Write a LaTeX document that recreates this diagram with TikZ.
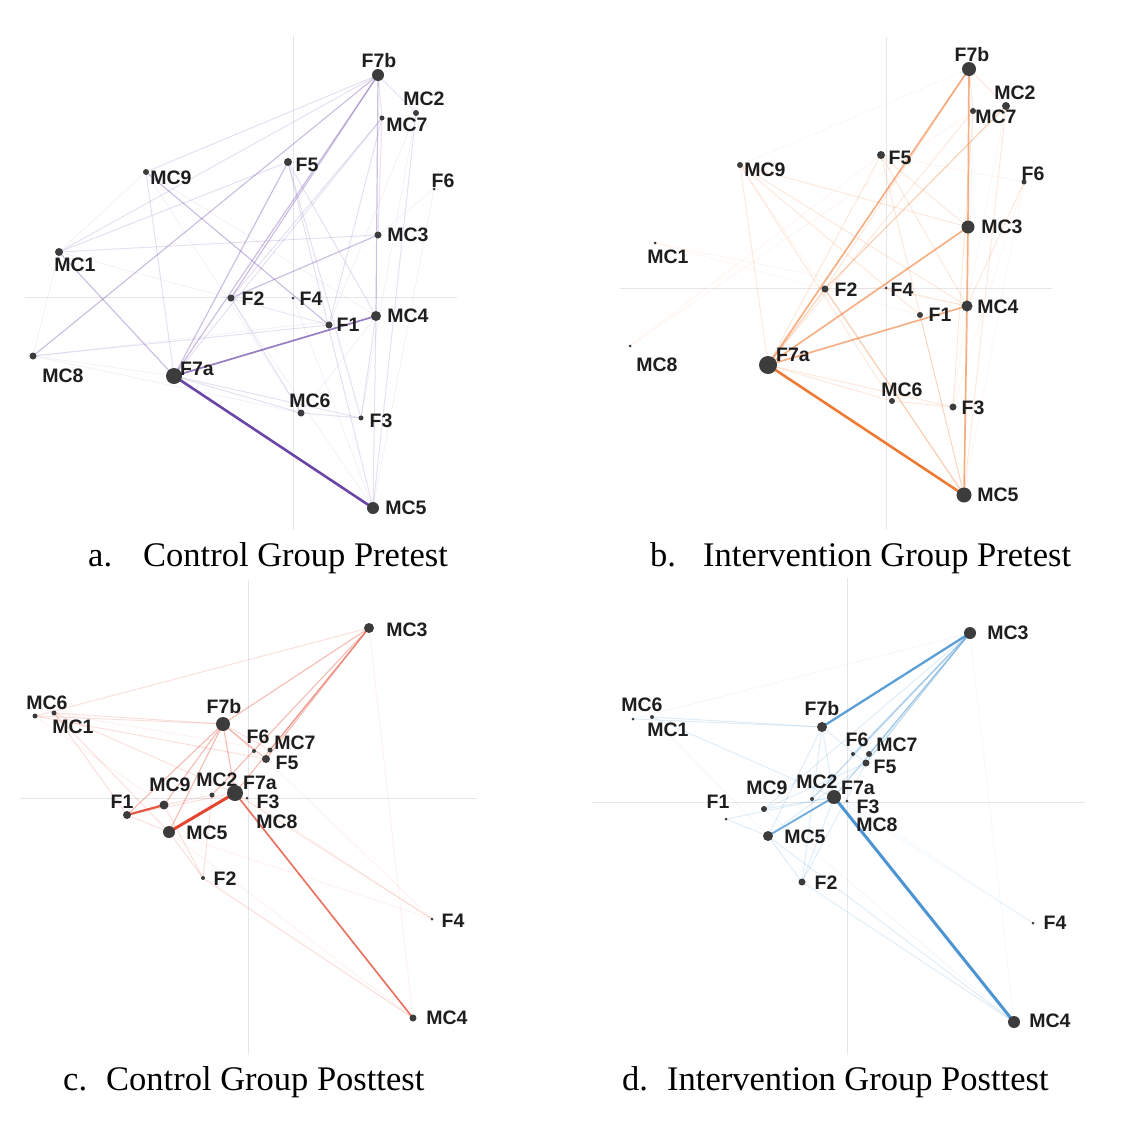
\documentclass[tikz,border=0pt]{standalone}
\usepackage{fontspec}
\setmainfont{Liberation Serif}
\newfontfamily\lblfont{Liberation Sans}
\definecolor{dotc}{HTML}{3C3C3C}
\definecolor{axisc}{HTML}{E6E6EA}
\definecolor{purp}{HTML}{6A46A6}
\definecolor{oran}{HTML}{EE7B35}
\definecolor{redc}{HTML}{E3452E}
\definecolor{bluc}{HTML}{4A95D2}
\definecolor{lblc}{HTML}{1E1E1E}
\pgfdeclarelayer{bg}
\pgfsetlayers{bg,main}
\tikzset{
  dotn/.style={circle, fill=dotc, inner sep=0pt, minimum size=#1},
  lbl/.style={font=\lblfont\bfseries\fontsize{19.5}{19.5}\selectfont, text=lblc, inner sep=0pt},
  captxt/.style={font=\fontsize{34.5}{34.5}\selectfont, inner sep=0pt, anchor=base west},
  axisl/.style={draw=axisc, line width=1pt},
  e1/.style={line width=2.6pt},
  e2/.style={line width=1.7pt, opacity=.6},
  e3/.style={line width=1.2pt, opacity=.34},
  e4/.style={line width=1pt, opacity=.17},
  e5/.style={line width=0.8pt, opacity=.08},
}
\newcommand\mkpt[7]{\node[dotn=#4pt] (#1) at (#2,#3) {}; \node[lbl] (#1l) at (#6,#7) {#5};}
\newcommand\mkedges[2]{\foreach \u/\v in {#2} {\draw[#1] (\u.center) -- (\v.center);}}
\begin{document}
\begin{tikzpicture}[x=1pt,y=-1pt]
\useasboundingbox (0,0) rectangle (1122,1122);

% ---------------- panel a ----------------
\mkpt{aF7b}{378}{75}{12}{F7b}{379}{61}
\mkpt{aMC2}{416}{113}{6}{MC2}{424}{99}
\mkpt{aMC7}{382}{118}{5}{MC7}{407}{125}
\mkpt{aF5}{288}{162}{8}{F5}{307}{165}
\mkpt{aMC9}{146}{172}{6}{MC9}{171}{178}
\mkpt{aF6}{434}{189}{3}{F6}{443}{181}
\mkpt{aMC3}{378}{235}{7}{MC3}{408}{235}
\mkpt{aMC1}{59}{252}{8}{MC1}{75}{265}
\mkpt{aF2}{231}{298}{7}{F2}{253}{299}
\mkpt{aF4}{293}{298}{3}{F4}{311}{299}
\mkpt{aMC4}{376}{316}{10}{MC4}{408}{316}
\mkpt{aF1}{329}{325}{7}{F1}{348}{325}
\mkpt{aMC8}{33}{356}{7}{MC8}{63}{376}
\mkpt{aF7a}{174}{376}{16}{F7a}{197}{369}
\mkpt{aMC6}{301}{413}{7}{MC6}{310}{401}
\mkpt{aF3}{361}{418}{5}{F3}{381}{421}
\mkpt{aMC5}{373}{508}{12}{MC5}{406}{508}

% ---------------- panel b ----------------
\mkpt{bF7b}{969}{69}{14}{F7b}{972}{55}
\mkpt{bMC2}{1006}{106}{8}{MC2}{1015}{93}
\mkpt{bMC7}{973}{111}{6}{MC7}{996}{117}
\mkpt{bF5}{881}{155}{8}{F5}{900}{158}
\mkpt{bMC9}{740}{165}{6}{MC9}{765}{170}
\mkpt{bF6}{1024}{182}{5}{F6}{1033}{174}
\mkpt{bMC3}{968}{227}{13}{MC3}{1002}{227}
\mkpt{bMC1}{655}{243}{3}{MC1}{668}{257}
\mkpt{bF2}{825}{289}{7}{F2}{846}{290}
\mkpt{bF4}{886}{288}{3}{F4}{902}{290}
\mkpt{bMC4}{967}{306}{11}{MC4}{998}{307}
\mkpt{bF1}{920}{315}{6}{F1}{940}{315}
\mkpt{bMC8}{630}{346}{3}{MC8}{657}{365}
\mkpt{bF7a}{768}{365}{18}{F7a}{793}{355}
\mkpt{bMC6}{892}{401}{6}{MC6}{902}{390}
\mkpt{bF3}{953}{407}{7}{F3}{973}{408}
\mkpt{bMC5}{964}{495}{15}{MC5}{998}{495}

% ---------------- panel c ----------------
\mkpt{cMC3}{369}{628}{10}{MC3}{407}{630}
\mkpt{cMC6}{35}{716}{5}{MC6}{47}{703}
\mkpt{cMC1}{54}{713}{5}{MC1}{73}{727}
\mkpt{cF7b}{223}{724}{14}{F7b}{224}{707}
\mkpt{cF6}{254}{751}{4}{F6}{258}{737}
\mkpt{cMC7}{270}{750}{5}{MC7}{295}{743}
\mkpt{cF5}{266}{759}{8}{F5}{287}{763}
\mkpt{cMC9}{164}{805}{9}{MC9}{170}{785}
\mkpt{cMC2}{212}{795}{5}{MC2}{217}{780}
\mkpt{cMC8}{238}{797}{2}{MC8}{277}{822}
\mkpt{cF7a}{235}{793}{16}{F7a}{260}{783}
\mkpt{cF3}{247}{798}{3}{F3}{268}{802}
\mkpt{cF1}{127}{815}{8}{F1}{122}{802}
\mkpt{cMC5}{169}{832}{12}{MC5}{207}{833}
\mkpt{cF2}{203}{878}{4}{F2}{225}{879}
\mkpt{cF4}{432}{919}{3}{F4}{453}{921}
\mkpt{cMC4}{413}{1018}{7}{MC4}{447}{1018}

% ---------------- panel d ----------------
\mkpt{dMC3}{970}{633}{12}{MC3}{1008}{633}
\mkpt{dMC6}{633}{719}{3}{MC6}{642}{705}
\mkpt{dMC1}{652}{717}{4}{MC1}{668}{730}
\mkpt{dF7b}{822}{727}{10}{F7b}{822}{709}
\mkpt{dF6}{853}{754}{4}{F6}{857}{740}
\mkpt{dMC7}{869}{754}{6}{MC7}{897}{745}
\mkpt{dF5}{866}{763}{7}{F5}{885}{767}
\mkpt{dMC9}{764}{809}{6}{MC9}{767}{788}
\mkpt{dMC2}{812}{799}{4}{MC2}{817}{782}
\mkpt{dMC8}{838}{800}{2}{MC8}{877}{825}
\mkpt{dF7a}{834}{797}{14}{F7a}{858}{788}
\mkpt{dF3}{847}{801}{3}{F3}{868}{807}
\mkpt{dF1}{726}{819}{3}{F1}{718}{802}
\mkpt{dMC5}{768}{836}{10}{MC5}{805}{837}
\mkpt{dF2}{802}{882}{7}{F2}{826}{883}
\mkpt{dF4}{1033}{923}{3}{F4}{1055}{923}
\mkpt{dMC4}{1014}{1022}{12}{MC4}{1050}{1021}

\begin{pgfonlayer}{bg}
% axes
\draw[axisl] (293,35) -- (293,530);
\draw[axisl] (25,297) -- (457,297);
\draw[axisl] (886,37) -- (886,530);
\draw[axisl] (620,288) -- (1052,288);
\draw[axisl] (248,580) -- (248,1055);
\draw[axisl] (20,798) -- (477,798);
\draw[axisl] (847,578) -- (847,1055);
\draw[axisl] (592,802) -- (1085,802);

% panel a edges
\mkedges{e5,purp}{aMC8/aMC4, aMC1/aMC8, aMC1/aF1, aF2/aMC5, aMC9/aMC6, aMC6/aMC4, aF6/aMC3, aMC2/aF3, aMC8/aMC6, aMC9/aMC4, aF4/aMC5, aMC2/aF1, aF6/aMC5, aMC8/aF7a, aMC1/aMC9, aF2/aF1}
\mkedges{e4,purp}{aMC9/aF7b, aMC1/aF7b, aMC1/aF5, aMC1/aMC3, aMC4/aMC5, aF7a/aMC6, aF7a/aF3, aF7a/aMC7, aMC7/aF2, aMC8/aF1, aF5/aMC4, aF5/aMC5, aF2/aMC6, aMC6/aF3, aF3/aMC4, aMC9/aF7a, aMC7/aMC3, aF7b/aMC2, aF7b/aMC7, aF5/aF3, aMC2/aMC5, aMC7/aF1}
\mkedges{e3,purp}{aMC9/aF1, aF7b/aMC4, aMC1/aF7a, aMC8/aF7b, aF7a/aF7b, aF7a/aF5, aF2/aMC3, aF2/aF7b}
\mkedges{e2,purp,opacity=.7}{aF7a/aMC4}
\mkedges{e1,purp}{aF7a/aMC5}

% panel b edges
\mkedges{e5,oran}{bMC8/bMC7, bF7b/bMC9, bF6/bF3, bF6/bF5, bMC2/bMC4, bF2/bF4, bMC1/bF1, bMC9/bMC5, bMC8/bF5, bMC1/bMC4, bMC7/bMC5, bF6/bMC5, bF3/bMC4}
\mkedges{e4,oran}{bMC9/bMC3, bMC9/bMC4, bMC9/bF1, bMC9/bMC6, bMC9/bF7a, bF5/bMC3, bF5/bMC4, bF5/bMC5, bF7a/bMC6, bF7a/bF3, bF7a/bF5, bMC6/bF3, bF6/bMC4, bMC7/bF3, bMC2/bMC5, bF7b/bMC2, bF7b/bMC7, bF4/bMC4, bF1/bMC5, bMC7/bF7a, bF7b/bF2}
\mkedges{e3,oran}{bF2/bMC5, bF2/bMC2, bF7a/bF2}
\mkedges{e2,oran}{bF7a/bF7b, bF7a/bMC3, bF7a/bMC4, bF7b/bMC3, bMC3/bMC4, bMC4/bMC5}
\mkedges{e1,oran}{bF7a/bMC5}

% panel c edges
\mkedges{e5,redc}{cF3/cF4, cMC3/cMC4, cF5/cF4, cMC5/cF4, cMC6/cMC9, cMC1/cMC7, cMC5/cMC4}
\mkedges{e4,redc}{cMC6/cMC3, cMC1/cF7b, cMC1/cF7a, cMC1/cMC5, cMC1/cF1, cMC6/cF5, cF2/cMC4, cMC5/cF2, cMC9/cF2, cF7a/cF4, cF1/cMC5, cMC2/cF2, cMC6/cF7b, cF7b/cMC7, cF7b/cF6, cMC9/cMC2, cF1/cF7a}
\mkedges{e3,redc}{cF7b/cMC3, cF7a/cMC3, cMC7/cMC3, cF5/cMC3, cF7b/cMC5, cF7b/cMC9, cF7b/cF1, cF7b/cF7a, cF7b/cF5, cMC2/cMC3}
\mkedges{e2,redc,opacity=.75}{cF7a/cMC4}
\mkedges{line width=2.2pt,redc,opacity=.9}{cMC9/cF1}
\mkedges{line width=3pt,redc}{cF7a/cMC5}

% panel d edges
\mkedges{e5,bluc}{dMC6/dMC3, dMC3/dMC4, dMC1/dMC5, dF3/dF4, dMC9/dMC4, dF7a/dF4}
\mkedges{e4,bluc}{dF7b/dF2, dF7b/dMC5, dF7b/dF7a, dMC1/dF7a, dMC1/dF7b, dMC6/dF7b, dF2/dMC4, dMC5/dMC4, dMC5/dF2, dF2/dF7a, dF2/dF5, dF1/dF7a, dMC9/dF7a, dMC9/dF5, dMC5/dF5, dF1/dMC5, dMC9/dMC3, dF7b/dF5}
\mkedges{e3,bluc}{dF7a/dMC3, dMC7/dMC3, dF5/dMC3, dF6/dMC3, dMC2/dMC3}
\mkedges{line width=1.8pt,opacity=.8,bluc}{dF7a/dMC5}
\mkedges{line width=2.3pt,opacity=.9,bluc}{dF7b/dMC3}
\mkedges{line width=3pt,bluc}{dF7a/dMC4}
\end{pgfonlayer}

% captions
\node[captxt] (capa1) at (88,566) {a.};
\node[captxt] (capa2) at (143,566) {Control Group Pretest};
\node[captxt] (capb1) at (650,566) {b.};
\node[captxt] (capb2) at (703,566) {Intervention Group Pretest};
\node[captxt] (capc1) at (63,1090) {c.};
\node[captxt] (capc2) at (106,1090) {Control Group Posttest};
\node[captxt] (capd1) at (622,1090) {d.};
\node[captxt] (capd2) at (667,1090) {Intervention Group Posttest};
\end{tikzpicture}
\end{document}
